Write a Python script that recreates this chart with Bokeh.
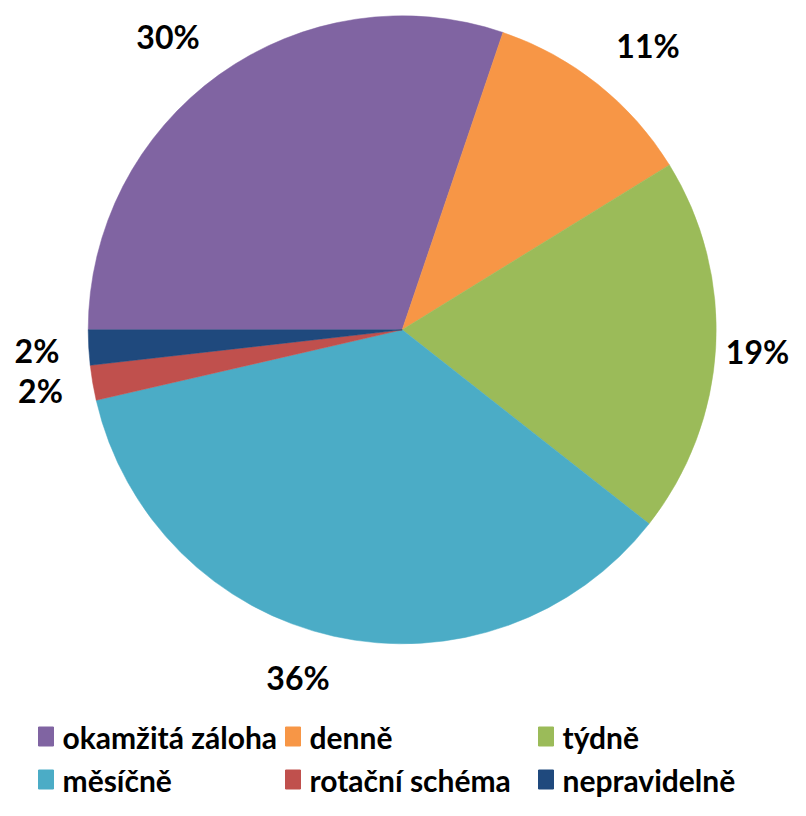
import math
from bokeh.plotting import figure
from bokeh.models import ColumnDataSource, Range1d
from bokeh.core.properties import value
from bokeh.embed import file_html
from bokeh.resources import INLINE

# ---- data ----
categories = ["okamžitá záloha", "denně", "týdně", "měsíčně", "rotační schéma", "nepravidelně"]
shares = [30.2, 11.0, 19.4, 35.8, 1.8, 1.8]
colors = ["#8064A2", "#F79646", "#9BBB59", "#4BACC6", "#C0504D", "#1F497D"]

# ---- layout (pixel coordinates of the picture) ----
CX, CY, R = 401.7, 329.3, 314.0
label_pos = [(167.5, 35.5), (647.5, 45.0), (757.0, 350.5), (297.5, 676.5), (40.0, 390.0), (36.5, 350.0)]
legend_pos = [(38, 736), (285, 736), (538, 736), (38, 779), (285, 779), (538, 779)]

total = sum(shares)
starts, ends = [], []
cum = 0.0
for v in shares:
    starts.append(math.pi - 2 * math.pi * cum / total)
    cum += v
    ends.append(math.pi - 2 * math.pi * cum / total)

labels = [f"{round(v / total * 100)}%" for v in shares]

W, H = 790, 800
p = figure(width=W, height=H, output_backend="svg", toolbar_location=None,
           x_range=Range1d(0, W), y_range=Range1d(-H, 0),
           x_axis_type=None, y_axis_type=None, min_border=0)
p.grid.visible = False
p.outline_line_color = None
p.background_fill_color = "white"
p.border_fill_color = "white"

src = ColumnDataSource(dict(
    x=[CX] * len(shares), y=[-CY] * len(shares),
    start=starts, end=ends, color=colors, cat=categories,
))
p.wedge(x="x", y="y", radius=R, start_angle="start", end_angle="end",
        direction="clock", fill_color="color", line_color="color", line_width=0.5, source=src)

lab_src = ColumnDataSource(dict(
    x=[lp[0] for lp in label_pos], y=[-lp[1] for lp in label_pos], text=labels,
))
p.text(x="x", y="y", text="text", source=lab_src, text_font=value("Lato"),
       text_font_style="bold", text_font_size="32px", text_align="center",
       text_baseline="middle", text_color="black")

leg_src = ColumnDataSource(dict(
    x=[lp[0] + 7.5 for lp in legend_pos], y=[-lp[1] for lp in legend_pos],
    tx=[lp[0] + 24 for lp in legend_pos], color=colors, cat=categories,
))
p.rect(x="x", y="y", width=15, height=19, fill_color="color", line_color="color", source=leg_src)
p.text(x="tx", y="y", text="cat", source=leg_src, text_font=value("Lato"),
       text_font_style="bold", text_font_size="30px", text_align="left",
       text_baseline="middle", text_color="black")

open("out.html", "w").write(file_html(p, INLINE))
